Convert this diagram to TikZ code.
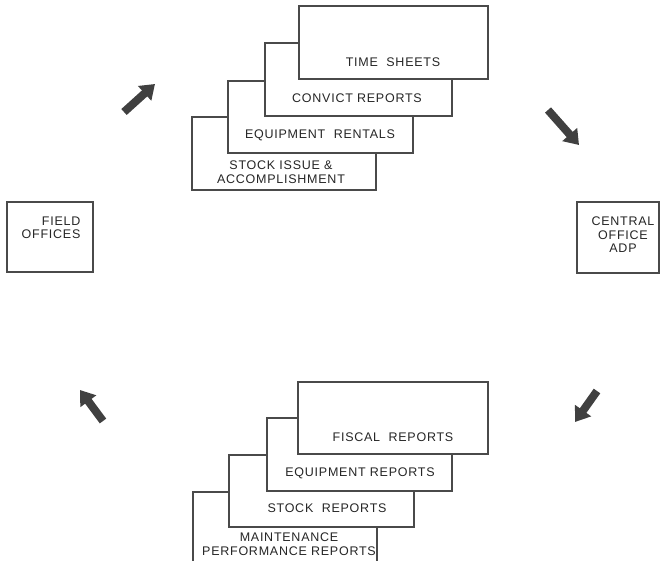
\documentclass[tikz,border=0pt]{standalone}
\usepackage{fontspec}
\setmainfont{Liberation Sans}[LetterSpace=6]
\usetikzlibrary{arrows.meta}
\definecolor{ink}{HTML}{4A4A4A}
\definecolor{txt}{HTML}{262626}
\definecolor{arr}{HTML}{404040}
\tikzset{
  sheet/.style={draw=ink, line width=1.2pt, fill=white},
  lbl/.style={text=txt, font=\fontsize{12.5}{13.5}\selectfont, align=center, inner sep=0pt},
  flow/.style={draw=arr, line width=8pt, -{Triangle[length=14pt,width=19pt]}, shorten >=0pt},
}
\begin{document}
\begin{tikzpicture}[x=1pt,y=-1pt]
\useasboundingbox (0,0) rectangle (661,560);
% top stack (back to front)
\draw[sheet] (192,117) rectangle (376,190);
\node[lbl] (stock) at (281,172) {STOCK ISSUE \&\\ACCOMPLISHMENT};
\draw[sheet] (228,81) rectangle (413,153);
\node[lbl] (rent) at (320,135) {EQUIPMENT\ \ RENTALS};
\draw[sheet] (265,43) rectangle (452,116);
\node[lbl] (conv) at (357,98) {CONVICT REPORTS};
\draw[sheet] (299,6) rectangle (488,79);
\node[lbl] (time) at (393,62) {TIME\ \ SHEETS};
% bottom stack
\begin{scope}
\clip (0,0) rectangle (661,560);
\draw[sheet] (193,566) -- (193,492) -- (377,492) -- (377,566);
\end{scope}
\node[lbl] (maint) at (289,544) {MAINTENANCE\\PERFORMANCE REPORTS};
\draw[sheet] (229,455) rectangle (414,527);
\node[lbl] (sr) at (327,508) {STOCK\ \ REPORTS};
\draw[sheet] (267,418) rectangle (452,491);
\node[lbl] (er) at (360,473) {EQUIPMENT REPORTS};
\draw[sheet] (298,382) rectangle (488,454);
\node[lbl] (fr) at (393,437) {FISCAL\ \ REPORTS};
% side boxes
\draw[sheet] (7,202) rectangle (93,272);
\node[lbl, align=right] (field) at (51,228) {FIELD\\OFFICES};
\draw[sheet] (577,202) rectangle (659,273);
\node[lbl] (central) at (623,235) {CENTRAL\\OFFICE\\ADP};
% arrows
\coordinate (a1s) at (124,112); \coordinate (a1e) at (155,84);
\coordinate (a2s) at (548,110); \coordinate (a2e) at (579,145);
\coordinate (a3s) at (103,421); \coordinate (a3e) at (80,390);
\coordinate (a4s) at (597,391); \coordinate (a4e) at (575,422);
\draw[flow] (a1s) -- (a1e);
\draw[flow] (a2s) -- (a2e);
\draw[flow] (a3s) -- (a3e);
\draw[flow] (a4s) -- (a4e);
\end{tikzpicture}
\end{document}
